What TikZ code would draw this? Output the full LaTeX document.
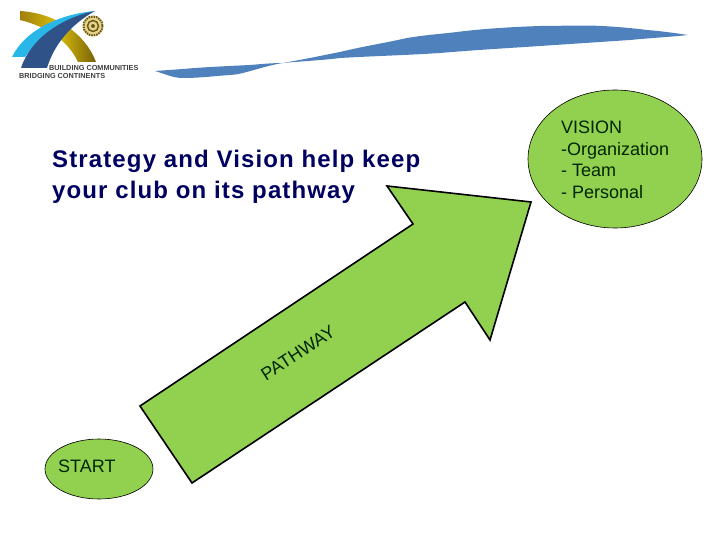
\documentclass[tikz,border=0pt]{standalone}
\usepackage{fontspec}
\setmainfont{Liberation Sans}
\usetikzlibrary{shapes.geometric}
\definecolor{grn}{HTML}{92D050}
\definecolor{bannerblue}{HTML}{4F81BD}
\definecolor{titlenavy}{HTML}{000060}
\definecolor{logocyan}{HTML}{29B6E8}
\definecolor{logonavy}{HTML}{2F5288}
\definecolor{logogold}{HTML}{C8A010}
\definecolor{logodark}{HTML}{6B5A10}
\tikzset{
  greenshape/.style={fill=grn,draw=black},
  ell/.style={ellipse,fill=grn,draw=black,line width=0.6pt,inner sep=0pt},
  lbl/.style={font=\fontsize{18}{21.5}\selectfont,text=black!85!green,inner sep=0pt},
  logotext/.style={font=\bfseries\fontsize{7.3}{7.3}\selectfont,text=black!75,inner sep=0pt,anchor=west},
}
\begin{document}
\begin{tikzpicture}[x=1pt,y=-1pt]
\useasboundingbox (0,0) rectangle (720,540);
% banner
\fill[bannerblue] (155,71) .. controls (165,74) and (173,78) .. (183,78)
  .. controls (195,78) and (207,77) .. (217,76) .. controls (228,75) and (236,75) .. (243,73)
  .. controls (258,69) and (270,65) .. (283,63)
  .. controls (305,61) and (325,60) .. (340,58) .. controls (375,56) and (410,55) .. (440,53)
  .. controls (475,50) and (510,48) .. (540,46) .. controls (570,44) and (600,42) .. (630,40)
  .. controls (650,38) and (670,37) .. (688,35) .. controls (675,33) and (660,31) .. (647,30)
  .. controls (632,28) and (618,27) .. (603,26) .. controls (580,25) and (560,26) .. (540,26)
  .. controls (510,27) and (480,29) .. (457,32) .. controls (440,34) and (425,35) .. (407,38)
  .. controls (385,43) and (360,47) .. (340,52) .. controls (320,56) and (300,60) .. (283,63)
  .. controls (272,63) and (262,64) .. (250,65) .. controls (230,66) and (205,67) .. (183,69) -- cycle;
% logo
\shade[left color=logogold!80!black,right color=logogold!60!black,middle color=logogold!70!yellow]
  (20,11) .. controls (55,13) and (85,33) .. (96,62) -- (78,62)
  .. controls (68,40) and (45,26) .. (20,20) -- cycle;
\fill[logocyan] (12,57) .. controls (25,30) and (60,14) .. (95,11)
  .. controls (65,18) and (40,35) .. (25,57) -- cycle;
\fill[logonavy] (21,68) .. controls (30,40) and (60,18) .. (95,11)
  .. controls (70,25) and (54,45) .. (47,68) -- cycle;
\fill[logogold!45!white] (93,26) circle[radius=10.5];
\draw[logodark,line width=2pt,dash pattern=on 1.5pt off 1pt] (93,26) circle[radius=9.5];
\draw[logodark,line width=1.5pt] (93,26) circle[radius=5.5];
\fill[logodark] (93,26) circle[radius=2];
\node[logotext] (build) at (49,67.5) {BUILDING COMMUNITIES};
\node[logotext] (bridge) at (19,75.5) {BRIDGING CONTINENTS};
% title
\node[font=\bfseries\fontsize{24}{31}\selectfont\addfontfeature{LetterSpace=4.7},text=titlenavy,align=left,anchor=north west,inner sep=0pt] (title) at (52,150)
  {Strategy and Vision help keep\\your club on its pathway};
% arrow
\draw[greenshape,line width=1.6pt,line join=miter] (140,406) -- (413,224) -- (387,186) -- (531,202) -- (490,340) -- (465,302) -- (192,483) -- cycle;
\node[lbl,rotate=33] (pathway) at (298,353) {PATHWAY};
% ellipses
\node[ell,minimum width=174pt,minimum height=138pt] (vision) at (615,159) {};
\node[lbl,align=left,anchor=north west] (visiontext) at (561,121) {VISION\\-Organization\\- Team\\- Personal};
\node[ell,minimum width=108pt,minimum height=60pt] (start) at (99,469) {};
\node[lbl,anchor=west] (starttext) at (58,466) {START};
\end{tikzpicture}
\end{document}
